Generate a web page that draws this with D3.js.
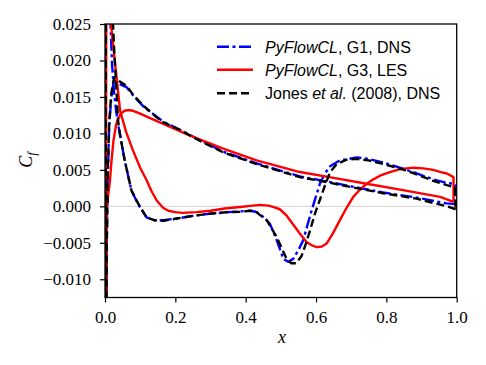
<!DOCTYPE html>
<html><head><meta charset="utf-8">
<script src="https://cdn.jsdelivr.net/npm/d3@7"></script>
<style>body{margin:0;background:#fff}svg{display:block}</style>
</head><body>
<svg id="chart" width="486" height="365"></svg>
<script>
// ---- data (x, Cf) ----
// Blue: PyFlowCL, G1, DNS
const g1SuctionX = [0.001,0.003,0.008,0.015,0.020,0.026,0.032,0.037,0.042,0.056,0.075,0.094,0.118,0.140,0.166,0.200,0.250,0.300,0.350,0.384,0.410,0.425,0.440,0.469,0.488,0.507,0.521,0.535,0.550,0.564,0.576,0.588,0.600,0.611,0.625,0.640,0.668,0.716,0.750,0.791,0.858,0.933,0.972,0.995];
const g1SuctionCf = [-0.03,0.045,0.05,0.026,0.0195,0.0155,0.0130,0.0113,0.0100,0.0063,0.0022,0.0003,-0.0015,-0.0019,-0.0019,-0.0017,-0.0013,-0.0010,-0.0008,-0.0007,-0.0006,-0.0007,-0.0010,-0.0024,-0.0046,-0.0072,-0.0076,-0.0072,-0.0060,-0.0046,-0.0025,-0.0005,0.0014,0.0031,0.0045,0.0055,0.0063,0.0067,0.0065,0.0060,0.0050,0.0037,0.0032,0.0031];
const g1PressureX = [0.003,0.005,0.008,0.012,0.018,0.024,0.028,0.040,0.062,0.080,0.109,0.147,0.166,0.213,0.261,0.336,0.431,0.554,0.611,0.725,0.791,0.886,0.972,0.997];
const g1PressureCf = [-0.03,-0.005,0.004,0.011,0.015,0.0168,0.0172,0.0168,0.0163,0.0152,0.0137,0.0123,0.0116,0.0105,0.0093,0.0075,0.0059,0.0041,0.0036,0.0025,0.0019,0.0012,0.0004,0.0003];
// Red: PyFlowCL, G3, LES
const g3SuctionX = [0.002,0.004,0.008,0.015,0.017,0.030,0.043,0.060,0.080,0.100,0.118,0.132,0.147,0.165,0.180,0.200,0.220,0.260,0.300,0.340,0.384,0.420,0.440,0.465,0.480,0.497,0.515,0.535,0.555,0.573,0.590,0.602,0.617,0.630,0.648,0.668,0.687,0.706,0.725,0.744,0.763,0.782,0.810,0.839,0.877,0.905,0.933,0.955,0.972,0.991];
const g3SuctionCf = [-0.03,0.045,0.06,0.03,0.025,0.019,0.0131,0.0102,0.0076,0.0053,0.0036,0.0021,0.0008,-0.0002,-0.0006,-0.0008,-0.0009,-0.0008,-0.0006,-0.0003,-0.0001,0.0001,0.0002,0.0001,-0.0001,-0.0004,-0.0012,-0.0025,-0.0038,-0.0049,-0.0054,-0.0056,-0.0055,-0.0051,-0.0037,-0.0019,-0.0002,0.0013,0.0023,0.0031,0.0037,0.0042,0.0047,0.0051,0.0053,0.0052,0.0050,0.0047,0.0045,0.0040];
const g3PressureX = [0.004,0.005,0.009,0.014,0.019,0.024,0.032,0.043,0.055,0.066,0.080,0.100,0.128,0.166,0.242,0.336,0.431,0.554,0.650,0.744,0.839,0.953,0.991];
const g3PressureCf = [-0.03,0.0,0.0015,0.0035,0.0065,0.0090,0.0113,0.0126,0.0131,0.0132,0.0131,0.0127,0.0121,0.0113,0.0097,0.0079,0.0063,0.0047,0.0039,0.0031,0.0023,0.0013,0.0006];
// Black: Jones et al. (2008), DNS
const jonesSuctionX = [0.001,0.003,0.010,0.020,0.026,0.032,0.037,0.042,0.056,0.075,0.094,0.118,0.140,0.166,0.200,0.250,0.300,0.350,0.384,0.415,0.430,0.460,0.488,0.505,0.517,0.530,0.543,0.559,0.572,0.583,0.597,0.611,0.625,0.640,0.659,0.687,0.716,0.750,0.791,0.858,0.933,0.972,0.995];
const jonesSuctionCf = [-0.03,0.045,0.06,0.028,0.0215,0.0165,0.0118,0.0100,0.0063,0.0022,0.0004,-0.0015,-0.0019,-0.0020,-0.0017,-0.0013,-0.0010,-0.0008,-0.00075,-0.0006,-0.0008,-0.0019,-0.0042,-0.0060,-0.0073,-0.0078,-0.0078,-0.0068,-0.0050,-0.0033,-0.0010,0.0009,0.0028,0.0047,0.0058,0.0064,0.0065,0.0063,0.0058,0.0049,0.0035,0.0029,0.0026];
const jonesPressureX = [0.003,0.005,0.008,0.012,0.018,0.024,0.028,0.040,0.062,0.080,0.109,0.147,0.166,0.213,0.261,0.336,0.431,0.554,0.611,0.725,0.791,0.886,0.972,0.997];
const jonesPressureCf = [-0.03,-0.006,0.005,0.0115,0.0155,0.0172,0.0177,0.0172,0.0165,0.0153,0.0138,0.0122,0.0115,0.0105,0.0092,0.0074,0.0058,0.0040,0.0035,0.0024,0.0018,0.00105,0.0,-0.0004];

const seriesNames = ["PyFlowCL, G1, DNS","PyFlowCL, G3, LES","Jones et al. (2008), DNS"];
const xTicks = [0.0,0.2,0.4,0.6,0.8,1.0];
const xTickLabels = ["0.0","0.2","0.4","0.6","0.8","1.0"];
const yTicks = [-0.010,-0.005,0.000,0.005,0.010,0.015,0.020,0.025];
const yTickLabels = ["\u22120.010","\u22120.005","0.000","0.005","0.010","0.015","0.020","0.025"];

// ---- layout ----
const L = 105, R = 456.7, T = 24, B = 297.5;
const svg = d3.select("#chart");
const x = d3.scaleLinear().domain([0,1]).range([L,R]);
const y = d3.scaleLinear().domain([-0.0125,0.025]).range([B,T]);

svg.append("defs").append("clipPath").attr("id","clip")
  .append("rect").attr("x",L).attr("y",T).attr("width",R-L).attr("height",B-T);

// zero line
svg.append("line").attr("x1",L).attr("x2",R).attr("y1",y(0)).attr("y2",y(0))
  .attr("stroke","#dcdcdc").attr("stroke-width",1.2);

function loop(sx, scf, px, pcf){
  const pts = [];
  for(let i=px.length-1;i>=0;i--) pts.push([px[i],pcf[i]]);
  for(let i=0;i<sx.length;i++) pts.push([sx[i],scf[i]]);
  pts.push([px[px.length-1],pcf[pcf.length-1]]);
  return pts;
}
const line = d3.line().x(d=>x(d[0])).y(d=>y(d[1]));
const styles = [
  {color:"#0000ff", dash:"12,3.5,3,3.5"},
  {color:"#ff0000", dash:null},
  {color:"#000000", dash:"8,4"}
];
const data = [
  loop(g1SuctionX,g1SuctionCf,g1PressureX,g1PressureCf),
  loop(g3SuctionX,g3SuctionCf,g3PressureX,g3PressureCf),
  loop(jonesSuctionX,jonesSuctionCf,jonesPressureX,jonesPressureCf)
];
const g = svg.append("g").attr("clip-path","url(#clip)");
data.forEach((d,i)=>{
  g.append("path").datum(d).attr("d",line).attr("fill","none")
   .attr("stroke",styles[i].color).attr("stroke-width",2.4)
   .attr("stroke-dasharray",styles[i].dash).attr("stroke-linejoin","round");
});

// axes
const font = "'Liberation Serif', serif";
const xa = svg.append("g").attr("transform",`translate(0,${B})`)
  .call(d3.axisBottom(x).tickValues(xTicks).tickFormat((d,i)=>xTickLabels[i]).tickSize(5).tickPadding(8));
const ya = svg.append("g").attr("transform",`translate(${L},0)`)
  .call(d3.axisLeft(y).tickValues(yTicks).tickFormat((d,i)=>yTickLabels[i]).tickSize(5).tickPadding(9));
[xa,ya].forEach(a=>{
  a.select(".domain").remove();
  a.selectAll("line").attr("stroke","#000").attr("stroke-width",1.2);
  a.selectAll("text").attr("font-family",font).attr("font-size",17).attr("fill","#000");
});
// frame
svg.append("rect").attr("x",L).attr("y",T).attr("width",R-L).attr("height",B-T)
  .attr("fill","none").attr("stroke","#000").attr("stroke-width",1.3);

// axis labels
svg.append("text").attr("x",282).attr("y",343).attr("text-anchor","middle")
  .attr("font-family",font).attr("font-style","italic").attr("font-size",18).text("x");
const yl = svg.append("text").attr("transform","translate(32,160) rotate(-90)")
  .attr("text-anchor","middle").attr("font-family",font).attr("font-style","italic").attr("font-size",18);
yl.append("tspan").text("C");
yl.append("tspan").attr("font-size",12.5).attr("dy",4).text("f");

// legend
const lfont = "'Liberation Sans', sans-serif";
const rows = [46.7, 69.8, 93.3];
rows.forEach((ry,i)=>{
  svg.append("line").attr("x1",217).attr("x2",253).attr("y1",ry).attr("y2",ry)
    .attr("stroke",styles[i].color).attr("stroke-width",2.4).attr("stroke-dasharray",styles[i].dash);
  const t = svg.append("text").attr("x",265).attr("y",ry+6)
    .attr("font-family",lfont).attr("font-size",16).attr("fill","#000");
  if(i<2){
    const parts = seriesNames[i].split(", ");
    t.append("tspan").attr("font-style","italic").text(parts[0]);
    t.append("tspan").text(", "+parts.slice(1).join(", "));
  } else {
    t.append("tspan").text("Jones ");
    t.append("tspan").attr("font-style","italic").text("et al.");
    t.append("tspan").text(" (2008), DNS");
  }
});
</script>
</body></html>
